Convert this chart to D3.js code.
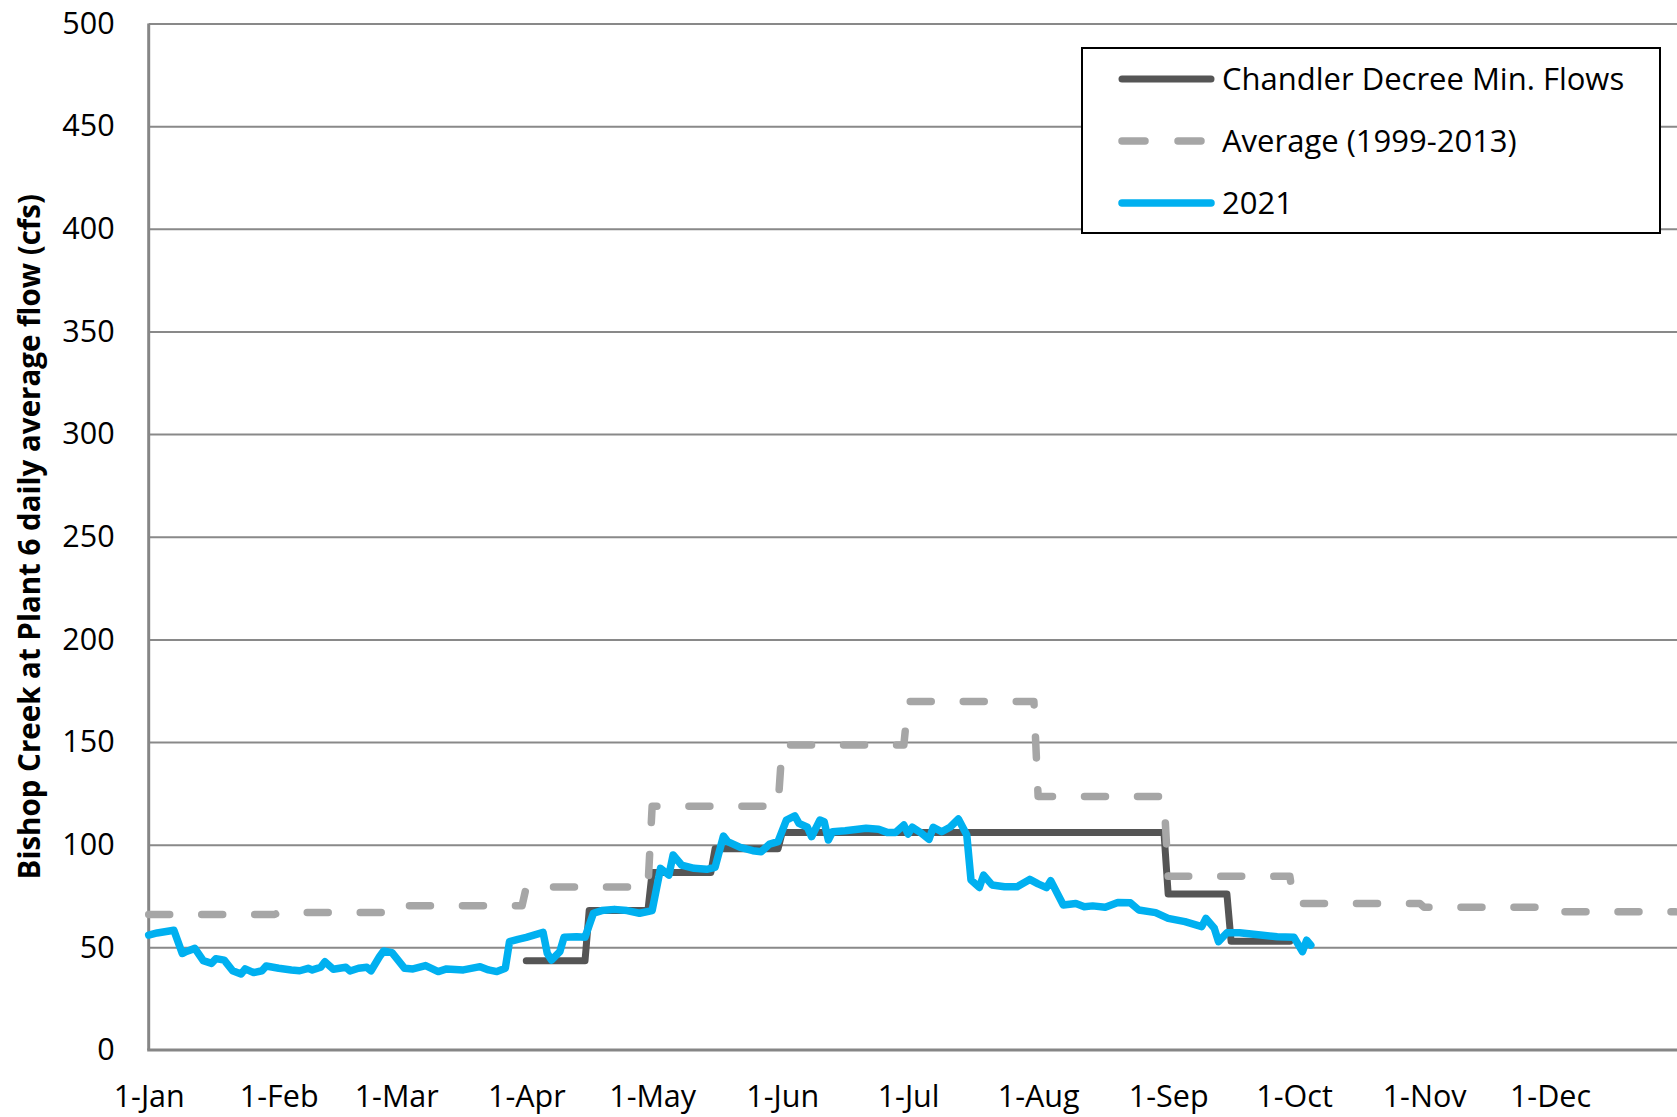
<!DOCTYPE html>
<html>
<head>
<meta charset="utf-8">
<script src="https://cdn.jsdelivr.net/npm/d3@7"></script>
<style>
  body { margin: 0; background: #fff; }
</style>
</head>
<body>
<div class="canvas"></div>
<script>
// TICKS
const yTicks = [0, 50, 100, 150, 200, 250, 300, 350, 400, 450, 500];
const monthTicks = ["2021-01-01", "2021-02-01", "2021-03-01", "2021-04-01", "2021-05-01", "2021-06-01",
  "2021-07-01", "2021-08-01", "2021-09-01", "2021-10-01", "2021-11-01", "2021-12-01"];

// CHANDLER DECREE MIN FLOWS - start of each half-month step
const minStart = ["2021-04-01", "2021-04-16", "2021-05-01", "2021-05-16", "2021-06-01", "2021-09-01", "2021-09-16"];
const minFlow = [43.5, 68, 86.5, 98, 106, 76, 53];
const minEnd = "2021-09-30";

// AVERAGE 1999-2013 - monthly steps
const avgStart = ["2021-01-01", "2021-02-01", "2021-03-01", "2021-04-01", "2021-05-01", "2021-06-01",
  "2021-07-01", "2021-08-01", "2021-09-01", "2021-10-01", "2021-11-01", "2021-12-01"];
const avgFlow = [66, 67, 70.3, 79.4, 118.7, 148.6, 169.7, 123.5, 84.6, 71.4, 69.5, 67.3];
const avgEnd = "2021-12-31";

// 2021 daily flow (day of year, cfs)
const flowDay = [0, 2, 6, 8, 9, 11, 13, 15, 16, 18, 20, 22, 23, 25, 27, 28, 31, 34, 36, 38, 39, 41, 42, 44, 47, 48,
  50, 52, 53, 55, 56, 58, 61, 63, 66, 69, 71, 75, 79, 81, 83, 85, 86, 88, 90, 94, 95, 96, 98, 99, 102, 104,
  106, 108, 111, 114, 117, 120, 122, 124, 125, 127, 130, 133, 135, 137, 138, 141, 144, 146, 148, 150, 152,
  154, 155, 157, 158, 160, 161, 162, 163, 166, 169, 171, 174, 176, 178, 180, 181, 182, 184, 186, 187, 189,
  191, 193, 195, 196, 198, 199, 201, 204, 207, 210, 212, 214, 215, 218, 221, 223, 225, 228, 231, 234, 236,
  240, 243, 247, 251, 252, 254, 255, 257, 260, 265, 269, 273, 275, 276, 277];
const flow2021 = [56, 57, 58.3, 47, 48, 49.5, 43.5, 42.2, 44.5, 43.8, 38.6, 37, 39.5, 37.7, 38.6, 40.9, 39.8, 39,
  38.6, 39.8, 39, 40.3, 43, 39.3, 40.3, 38.5, 39.8, 40.3, 38.6, 45.4, 48.2, 47.4, 39.8, 39.5, 41.1, 38.2, 39.5,
  39, 40.6, 39, 38.2, 39.8, 52.8, 53.9, 54.9, 57.3, 47.1, 43.8, 47.9, 54.9, 55.2, 54.9,
  66.6, 67.9, 68.5, 67.9, 66.6, 67.9, 88.5, 85.2, 95, 90.1, 88.5, 88, 89, 104.2, 101.5, 98.7, 97.1, 96.6,
  100.3, 101.5, 112, 114, 110.4, 108.5, 103.9, 112, 111.2, 102.3, 106.3, 106.8, 107.5, 108, 107.5, 106,
  105.9, 109.6, 105.2, 108.5, 105.9, 102.6, 108.5, 106.3, 108.5, 112.5, 104.7, 82.8, 79.2, 85.2, 80.4,
  79.5, 79.5, 83.1, 80.9, 79.1, 82.5, 70.6, 71.4, 69.8, 70.2, 69.5, 71.9, 71.7, 68.2, 66.9, 64.1, 62.5,
  60.1, 64.1, 59.3, 52.8, 57.1, 57.1, 56, 55.2, 54.9, 47.9, 53.5, 51.1];

const seriesNames = ["Chandler Decree Min. Flows", "Average (1999-2013)", "2021"];

const width = 1677, height = 1117;
const plotLeft = 148.7, plotRight = 1680, plotTop = 23.5, plotBottom = 1050;

const parse = d3.timeParse("%Y-%m-%d");
const jan1 = parse("2021-01-01");

const svg = d3.select(".canvas")
  .append("svg")
    .attr("width", width)
    .attr("height", height)
    .style("font-family", "'Open Sans', sans-serif");

const x = d3.scaleTime()
  .domain([jan1, parse("2022-01-01")])
  .range([plotLeft, plotRight]);

const y = d3.scaleLinear()
  .domain([0, 500])
  .range([plotBottom, plotTop]);

// GRIDLINES
svg.append("g")
  .attr("transform", `translate(${plotLeft},0)`)
  .call(d3.axisLeft(y).tickValues(yTicks.slice(1)).tickSize(-(plotRight - plotLeft)).tickFormat(""))
  .call(g => g.select(".domain").remove())
  .selectAll("line")
    .attr("stroke", "#898989")
    .attr("stroke-width", 2);

// Y LABELS
svg.append("g")
  .attr("transform", `translate(${plotLeft},0)`)
  .call(d3.axisLeft(y).tickValues(yTicks).tickSize(0).tickPadding(34))
  .call(g => g.select(".domain").remove())
  .selectAll("text")
    .attr("font-family", "'Open Sans', sans-serif")
    .attr("font-size", 30.5)
    .attr("fill", "#000");

// X LABELS
svg.append("g")
  .attr("transform", `translate(0,${plotBottom})`)
  .call(d3.axisBottom(x).tickValues(monthTicks.map(parse)).tickSize(0).tickPadding(35)
    .tickFormat(d3.timeFormat("%-d-%b")))
  .call(g => g.select(".domain").remove())
  .selectAll("text")
    .attr("font-family", "'Open Sans', sans-serif")
    .attr("font-size", 30.5)
    .attr("fill", "#000");

// AXIS LINES
svg.append("line")
  .attr("x1", plotLeft).attr("x2", plotLeft)
  .attr("y1", y(500)).attr("y2", y(0))
  .attr("stroke", "#868686").attr("stroke-width", 3);
svg.append("line")
  .attr("x1", plotLeft - 1.5).attr("x2", plotRight)
  .attr("y1", y(0)).attr("y2", y(0))
  .attr("stroke", "#868686").attr("stroke-width", 3);

// Y TITLE
svg.append("text")
  .attr("transform", `translate(30,${(plotTop + plotBottom) / 2}) rotate(-90)`)
  .attr("text-anchor", "middle")
  .attr("dy", "0.35em")
  .attr("font-weight", "bold")
  .attr("font-size", 29.5)
  .text("Bishop Creek at Plant 6 daily average flow (cfs)");

// build step points: each value held until the day before the next start
const steps = (starts, values, end) => {
  const pts = [];
  starts.forEach((s, i) => {
    const a = parse(s);
    const b = i < starts.length - 1 ? d3.timeDay.offset(parse(starts[i + 1]), -1) : parse(end);
    pts.push([a, values[i]], [b, values[i]]);
  });
  return pts;
};

const line = d3.line()
  .x(d => x(d[0]))
  .y(d => y(d[1]));

svg.append("path")
  .datum(steps(minStart, minFlow, minEnd))
  .attr("d", line)
  .attr("fill", "none")
  .attr("stroke", "#555555")
  .attr("stroke-width", 7)
  .attr("stroke-linejoin", "round")
  .attr("stroke-linecap", "round");

svg.append("path")
  .datum(steps(avgStart, avgFlow, avgEnd))
  .attr("d", line)
  .attr("fill", "none")
  .attr("stroke", "#a6a6a6")
  .attr("stroke-width", 7.5)
  .attr("stroke-dasharray", "21,32")
  .attr("stroke-linejoin", "round")
  .attr("stroke-linecap", "round");

svg.append("path")
  .datum(flowDay.map((d, i) => [d3.timeDay.offset(jan1, d), flow2021[i]]))
  .attr("d", line)
  .attr("fill", "none")
  .attr("stroke", "#00b0f0")
  .attr("stroke-width", 7.5)
  .attr("stroke-linejoin", "round")
  .attr("stroke-linecap", "round");

// LEGEND
const legend = svg.append("g");
legend.append("rect")
  .attr("x", 1082).attr("y", 48)
  .attr("width", 578).attr("height", 185)
  .attr("fill", "#fff")
  .attr("stroke", "#000")
  .attr("stroke-width", 2);

const legendStyle = [
  { color: "#555555", w: 7, dash: null },
  { color: "#a6a6a6", w: 7.5, dash: "23,33" },
  { color: "#00b0f0", w: 7.5, dash: null }
];

const rows = legend.selectAll("g.row")
  .data(seriesNames)
  .enter()
    .append("g")
    .attr("class", "row")
    .attr("transform", (d, i) => `translate(0,${79 + i * 62})`);

rows.append("line")
  .attr("x1", 1122).attr("x2", 1211)
  .attr("stroke", (d, i) => legendStyle[i].color)
  .attr("stroke-width", (d, i) => legendStyle[i].w)
  .attr("stroke-dasharray", (d, i) => legendStyle[i].dash)
  .attr("stroke-linecap", "round");

rows.append("text")
  .attr("x", 1222)
  .attr("dy", "0.35em")
  .attr("font-size", 31)
  .text(d => d);
</script>
</body>
</html>
